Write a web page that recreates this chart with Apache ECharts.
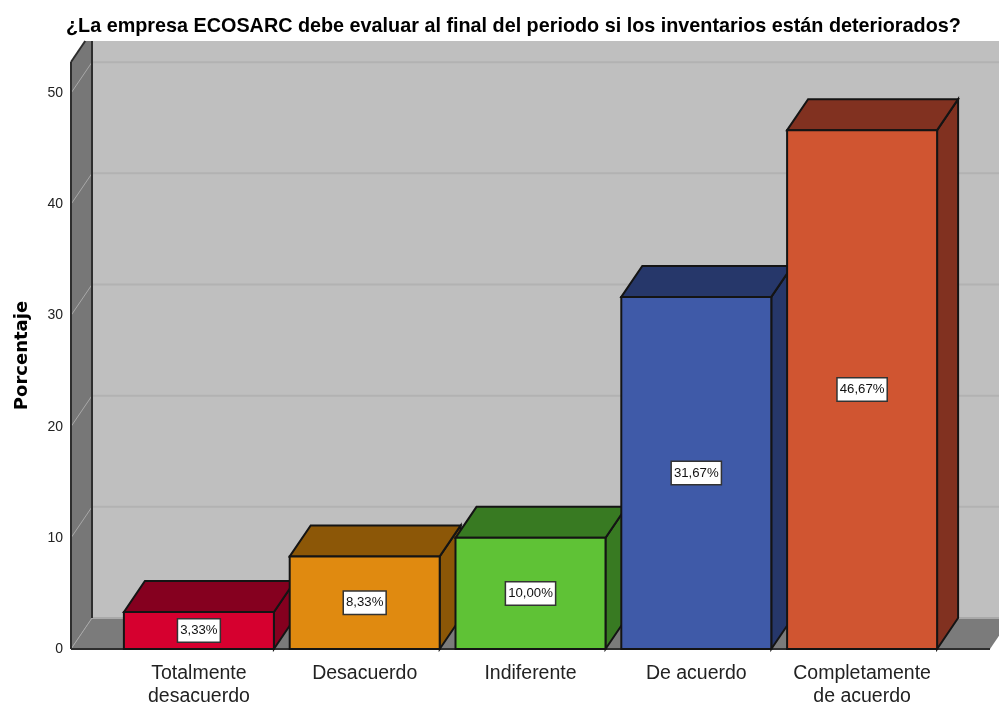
<!DOCTYPE html>
<html>
<head>
<meta charset="utf-8">
<style>html,body{margin:0;padding:0;background:#fff}#main{width:999px;height:704px}</style>
<script src="https://cdn.jsdelivr.net/npm/echarts@6/dist/echarts.min.js"></script>
</head>
<body>
<div id="main"></div>
<script>
var categories = ['Totalmente\ndesacuerdo', 'Desacuerdo', 'Indiferente', 'De acuerdo', 'Completamente\nde acuerdo'];
var percentages = [3.33, 8.33, 10.00, 31.67, 46.67];
var frontColors = ['#d6002f', '#e08a10', '#5fc236', '#3f5aa8', '#d05531'];
var sideColors = ['#85001f', '#8c5707', '#387a22', '#26376a', '#813120'];
var yTicks = [0, 10, 20, 30, 40, 50];

// depth of the fake 3D box, in px
var DX = 21, DY = 31;
// plot floor goes past the first and last category band
var WALL_PAD = 45;
var TOP_CLIP = 41;
var BAR_W = 150;

var chart = echarts.init(document.getElementById('main'));

function poly(points, fill, stroke, lw) {
  return {
    type: 'polygon',
    shape: { points: points },
    style: { fill: fill, stroke: stroke || null, lineWidth: lw || 0 }
  };
}
function line(x1, y1, x2, y2, color, lw) {
  return {
    type: 'line',
    shape: { x1: x1, y1: y1, x2: x2, y2: y2 },
    style: { stroke: color, lineWidth: lw }
  };
}

function renderWalls(params, api) {
  var cs = params.coordSys;
  var y0 = api.coord([0, 0])[1];
  var top = cs.y;
  var left = cs.x - WALL_PAD;
  var right = cs.x + cs.width + WALL_PAD;
  var kids = [];
  var cut = DX * (top - TOP_CLIP) / DY;
  // back wall, left wall, floor
  kids.push(poly([[left + DX, TOP_CLIP], [1010, TOP_CLIP], [1010, y0 - DY], [left + DX, y0 - DY]], '#bfbfbf'));
  kids.push(poly([[left, top], [left + cut, TOP_CLIP], [left + DX, TOP_CLIP], [left + DX, y0 - DY], [left, y0]], '#777777'));
  kids.push(poly([[left, y0], [left + DX, y0 - DY], [right + DX, y0 - DY], [right, y0]], '#7b7b7b'));
  yTicks.forEach(function (t) {
    var y = api.coord([0, t])[1];
    if (t > 0) {
      kids.push(line(left + DX, y - DY, 1010, y - DY, '#b2b2b2', 2));
      kids.push(line(left, y, left + DX, y - DY, '#a8a8a8', 1));
    }
  });
  kids.push(line(left + DX, y0 - DY, 1010, y0 - DY, '#a9a9a9', 2));
  kids.push(line(left, y0, left + DX, y0 - DY, '#a8a8a8', 1));
  kids.push(line(left, top, left, y0, '#2e2e2e', 2));
  kids.push(line(left + DX, TOP_CLIP, left + DX, y0 - DY, '#2e2e2e', 2));
  kids.push(line(left, top, left + cut, TOP_CLIP, '#2e2e2e', 2));
  kids.push(line(left, y0, right, y0, '#2e2e2e', 2));
  return { type: 'group', children: kids };
}

function renderBar(params, api) {
  var i = params.dataIndex;
  var val = api.value(1);
  var base = api.coord([api.value(0), 0]);
  var topPt = api.coord([api.value(0), val]);
  var x1 = base[0] - BAR_W / 2, x2 = base[0] + BAR_W / 2;
  var y1 = topPt[1], y0 = base[1];
  var edge = '#141414';
  return {
    type: 'group',
    children: [
      poly([[x2, y0], [x2 + DX, y0 - DY], [x2 + DX, y1 - DY], [x2, y1]], sideColors[i], edge, 2),
      poly([[x1, y1], [x1 + DX, y1 - DY], [x2 + DX, y1 - DY], [x2, y1]], sideColors[i], edge, 2),
      poly([[x1, y0], [x1, y1], [x2, y1], [x2, y0]], frontColors[i], edge, 2),
      {
        type: 'text',
        x: base[0],
        y: (y0 + y1) / 2,
        style: {
          text: val.toFixed(2).replace('.', ',') + '%',
          fontFamily: 'Liberation Sans',
          fontSize: 13.2,
          fill: '#111',
          align: 'center',
          verticalAlign: 'middle',
          backgroundColor: '#fff',
          borderColor: '#333',
          borderWidth: 1.5,
          padding: [5, 2, 4, 2]
        }
      }
    ]
  };
}

var option = {
  animation: false,
  backgroundColor: '#fff',
  title: {
    text: '¿La empresa ECOSARC debe evaluar al final del periodo si los inventarios están deteriorados?',
    left: 61,
    top: 12,
    textStyle: { fontFamily: 'Liberation Sans', fontSize: 19.8, fontWeight: 'bold', color: '#000' }
  },
  grid: { left: 116, top: 62, width: 829, height: 587, outerBoundsMode: 'none' },
  xAxis: {
    type: 'category',
    data: categories,
    axisLine: { show: false },
    axisTick: { show: false },
    axisLabel: {
      margin: 13,
      interval: 0,
      fontFamily: 'Liberation Sans',
      fontSize: 19.5,
      lineHeight: 23,
      color: '#222'
    }
  },
  yAxis: {
    type: 'value',
    min: 0,
    max: 52.8,
    interval: 10,
    name: 'Porcentaje',
    nameLocation: 'middle',
    nameGap: 85,
    nameTextStyle: { fontFamily: 'DejaVu Sans', fontSize: 18, fontWeight: 'bold', color: '#000' },
    axisLine: { show: false },
    axisTick: { show: false },
    splitLine: { show: false },
    axisLabel: {
      margin: 53,
      showMaxLabel: false,
      fontFamily: 'Liberation Sans',
      fontSize: 14,
      color: '#222'
    }
  },
  series: [
    { type: 'custom', silent: true, z: 1, data: [[0, 0]], renderItem: renderWalls },
    {
      type: 'custom',
      z: 2,
      encode: { x: 0, y: 1 },
      data: percentages.map(function (v, i) { return [i, v]; }),
      renderItem: renderBar
    }
  ]
};
chart.setOption(option);
</script>
</body>
</html>
